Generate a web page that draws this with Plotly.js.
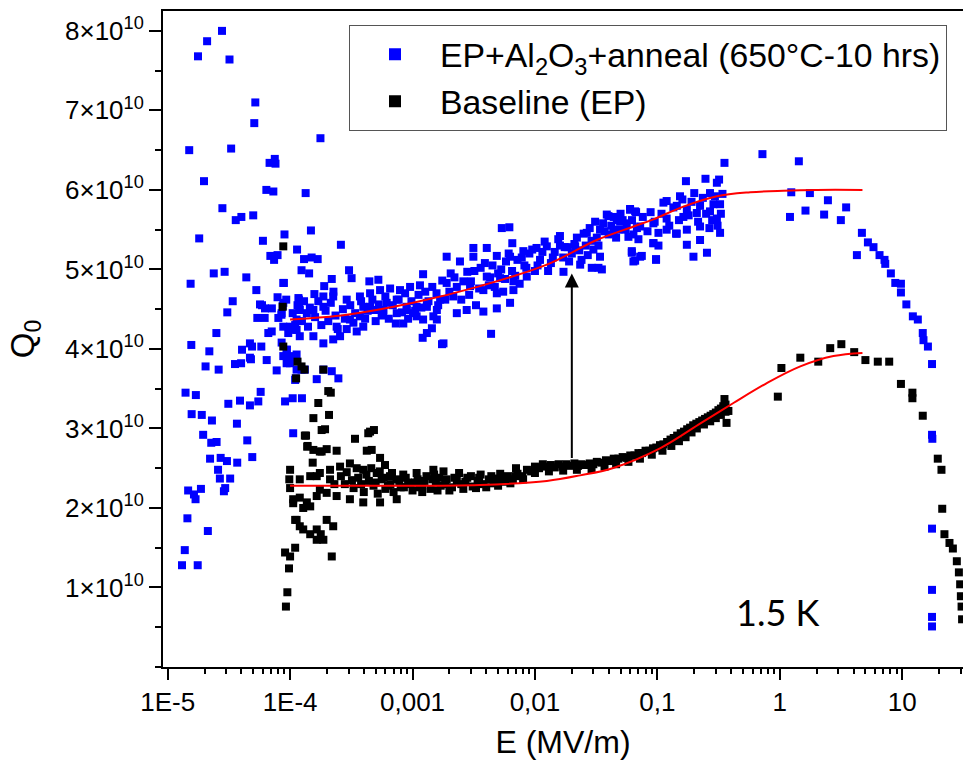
<!DOCTYPE html>
<html>
<head>
<meta charset="utf-8">
<script src="https://cdn.plot.ly/plotly-3.0.1.min.js"></script>
<style>html,body{margin:0;padding:0;background:#fff;}#chart{width:963px;height:768px;}</style>
</head>
<body>
<div id="chart"></div>
<script>
// ---- Data (E in MV/m, Q0) ----
const blueName = 'EP+Al<sub>2</sub>O<sub>3</sub>+anneal (650°C-10 hrs)';
const blackName = 'Baseline (EP)';

const blueE = [
2.78e-5,2.10e-5,1.77e-5,3.20e-5,5.20e-5,5.10e-5,1.50e-5,3.30e-5,1.77e-4,1.98e-5,
6.8e-5,7.5e-5,7.6e-5,6.4e-5,7.3e-5,1.34e-4,2.8e-5,3.6e-5,4.0e-5,5.0e-5,
1.81e-5,6.0e-5,9.0e-5,1.48e-4,6.9e-5,7.4e-5,7.9e-5,1.14e-4,1.30e-4,1.50e-4,
1.68e-4,2.38e-5,2.92e-5,4.39e-5,1.24e-4,1.43e-4,1.54e-5,8.9e-5,5.3e-5,7.9e-5,
9.3e-5,1.18e-4,1.58e-4,3.4e-5,5.9e-5,7.1e-5,8.7e-5,1.19e-4,3.07e-5,5.4e-5,
6.2e-5,8.5e-5,2.5e-5,1.56e-5,2.19e-5,2.04e-5,2.61e-5,3.55e-5,3.98e-5,4.79e-5,
4.05e-5,4.89e-5,5.82e-5,6.44e-5,7.77e-5,1.40e-5,1.70e-5,1.57e-5,1.90e-5,2.30e-5,
1.95e-5,2.27e-5,2.51e-5,3.13e-5,3.90e-5,4.70e-5,5.50e-5,5.75e-5,3.68e-5,4.47e-5,
2.22e-5,2.71e-5,3.05e-5,3.70e-5,4.91e-5,2.58e-5,2.67e-5,3.24e-5,2.88e-5,2.95e-5,
1.47e-5,1.64e-5,1.69e-5,1.87e-5,1.45e-5,2.13e-5,1.38e-5,1.31e-5,1.76e-5,9.1e-5,
1.05e-4,1.25e-4,1.06e-4,1.10e-4,1.24e-4,1.65e-4,1.87e-4,2.19e-4,2.48e-4,6.64e-5,
7.08e-5,4.70e-5,4.70e-5,5.68e-5,6.24e-5,8.53e-5,8.02e-5,8.8e-5,9.98e-5,1.13e-4,
9.66e-5,8.53e-5,9.37e-5,9.98e-5,1.13e-4,9.37e-5,1.13e-4,1.32e-4,1.11e-4,2.6e-4,
3.03e-4,3.18e-4,2.19e-4,1.90e-4,2.26e-4,4.44e-4,5.26e-4,1.22e-3,1.9e-3,2.44e-3,
3.14e-3,4.04e-3,3.14e-3,5.36e-3,6.18e-3,6.53e-3,4.88e-3,6.26e-3,8.04e-3,1.03e-2,
1.25e-2,1.60e-2,2.13e-2,2.65e-2,3.1e-2,3.98e-2,4.96e-2,5.98e-2,6.7e-2,3.4e-2,
4.38e-2,5.8e-2,7.0e-2,9.27e-2,1.02e-1,6.18e-2,7.23e-2,9.75e-2,6.37e-2,2.34e-2,
2.91e-2,3.3e-2,1.71e-2,8.57e-3,6.67e-3,5.19e-3,4.04e-3,6.67e-3,4.88e-3,3.79e-3,
2.95e-3,6.26e-3,4.88e-3,3.79e-3,2.77e-3,2.3e-3,4.38e-3,1.74e-3,1.21e-3,1.9e-3,
1.57e-3,1.31e-3,1.68e-3,2.15e-3,1.48e-3,1.22e-3,1.01e-3,8.95e-4,7.43e-4,6.15e-4,
5.43e-4,4.5e-4,3.72e-4,3.29e-4,2.9e-4,2.56e-4,2.25e-4,1.87e-4,1.55e-4,1.2e-4,
1.06e-4,9.4e-5,9.98e-5,8.8e-5,1.87e-4,2.25e-4,2.9e-4,3.72e-4,4.5e-4,5.43e-4,
6.56e-4,7.9e-4,9.55e-4,1.15e-3,3.96e-4,4.79e-4,5.77e-4,7.43e-4,8.97e-4,1.08e-3,
1.31e-3,1.58e-3,8.8e-5,8.8e-5,1.17e-4,1.2e-4,1.13e-4,1.37e-4,1.55e-4,1.87e-4,
2.4e-4,3.08e-4,3.96e-4,5.77e-4,8.41e-4,1.08e-3,1.44e-3,1.79e-3,1.31e-3,1.58e-3,
2.0e-3,2.2e-3,2.5e-3,2.8e-3,3.0e-3,3.3e-3,3.6e-3,4.2e-3,4.5e-3,5.0e-3,
5.5e-3,5.8e-3,6.5e-3,7.2e-3,7.5e-3,8.2e-3,9.0e-3,1.0e-2,1.1e-2,1.2e-2,
1.35e-2,1.45e-2,1.55e-2,1.7e-2,1.85e-2,2.0e-2,2.2e-2,2.4e-2,2.6e-2,2.8e-2,
3.0e-2,3.2e-2,3.6e-2,4.0e-2,4.4e-2,4.8e-2,5.2e-2,0.353,0.721,1.43,
0.171,0.247,0.306,0.319,0.200,0.269,0.153,0.112,0.119,0.144,
0.174,0.223,0.287,0.325,5.98e-2,6.58e-2,3.86e-2,4.66e-2,5.62e-2,7.23e-2,
9.27e-2,0.119,0.163,0.210,0.269,0.306,0.223,0.174,0.144,0.119,
6.37e-2,9.27e-2,0.102,0.142,0.174,0.223,0.266,0.325,6.18e-2,6.58e-2,
7.46e-2,9.75e-2,0.197,0.254,3.4e-2,3.52e-2,1.24,1.76,2.47,3.48,
1.21,1.62,2.30,3.15,4.68,4.26,5.24,5.82,6.52,7.16,
7.26,8.07,8.77,9.75,9.75,10.8,12.2,13.4,14.7,14.9,
16.2,17.5,17.5,17.6,17.5,17.5,17.5,17.5,
1.05e-4,1.1e-4,1.15e-4,1.25e-4,1.3e-4,1.4e-4,1.45e-4,1.6e-4,1.7e-4,1.8e-4,
1.95e-4,2.05e-4,2.15e-4,2.35e-4,2.45e-4,2.7e-4,2.8e-4,3.1e-4,3.4e-4,3.5e-4,
3.8e-4,4.1e-4,4.3e-4,4.7e-4,5.0e-4,5.3e-4,5.6e-4,6.0e-4,6.4e-4,6.9e-4,
7.3e-4,7.7e-4,8.2e-4,8.7e-4,9.2e-4,9.8e-4,1.05e-3,1.12e-3,1.18e-3,1.27e-3,
1.35e-3,1.45e-3,1.62e-3,1.75e-3,1.85e-3,2.05e-3,2.3e-3,2.6e-3,2.9e-3,3.2e-3,
3.5e-3,3.9e-3,4.3e-3,4.7e-3,5.3e-3,5.7e-3,6.1e-3,6.9e-3,7.8e-3,8.5e-3,
9.5e-3,1.05e-2,1.15e-2,1.28e-2,1.4e-2,1.6e-2,1.75e-2,1.9e-2,2.1e-2,2.3e-2,
2.5e-2,2.7e-2,2.9e-2,3.3e-2,3.7e-2,4.2e-2,4.6e-2,5.0e-2,5.5e-2,6.2e-2,
6.8e-2,7.6e-2,8.3e-2,8.8e-2,0.095,0.108,0.125,0.135,0.15,0.16,
0.18,0.19,0.215,0.235,0.25,0.28,0.295,0.31,0.33,0.34
];
const blueQ = [
8.00e10,7.87e10,7.68e10,7.64e10,7.10e10,6.84e10,6.50e10,6.52e10,6.65e10,6.11e10,
6.34e10,6.39e10,6.33e10,6.00e10,5.98e10,5.96e10,5.77e10,5.62e10,5.66e10,5.68e10,
5.39e10,5.36e10,5.44e10,5.49e10,5.17e10,5.12e10,5.18e10,5.25e10,5.13e10,5.15e10,
5.13e10,4.95e10,4.97e10,4.90e10,4.99e10,4.95e10,4.82e10,4.83e10,4.74e10,4.65e10,
4.62e10,4.62e10,4.69e10,4.60e10,4.55e10,4.51e10,4.54e10,4.51e10,4.46e10,4.39e10,
4.39e10,4.43e10,4.20e10,4.05e10,3.97e10,3.78e10,3.74e10,3.81e10,3.82e10,3.87e10,
3.99e10,4.03e10,4.03e10,3.86e10,3.73e10,3.45e10,3.42e10,3.18e10,3.17e10,3.10e10,
2.92e10,2.82e10,2.83e10,3.31e10,3.35e10,3.29e10,3.34e10,3.46e10,3.06e10,2.85e10,
2.62e10,2.63e10,2.59e10,2.57e10,2.64e10,2.48e10,2.37e10,2.37e10,2.21e10,2.25e10,
2.22e10,2.17e10,2.11e10,2.24e10,1.87e10,1.71e10,1.47e10,1.28e10,1.28e10,3.34e10,
3.38e10,3.38e10,2.94e10,3.61e10,3.74e10,3.62e10,3.74e10,3.72e10,3.63e10,4.20e10,
4.22e10,3.89e10,4.07e10,4.56e10,4.51e10,4.45e10,4.39e10,4.28e10,4.28e10,4.24e10,
4.20e10,4.08e10,3.99e10,3.91e10,3.93e10,3.82e10,3.74e10,3.74e10,3.63e10,5.31e10,
4.99e10,4.89e10,4.88e10,4.79e10,4.72e10,4.85e10,4.87e10,4.94e10,5.16e10,5.10e10,
5.27e10,5.27e10,5.16e10,5.52e10,5.53e10,5.33e10,5.17e10,5.16e10,5.23e10,5.27e10,
5.29e10,5.30e10,5.29e10,5.46e10,5.60e10,5.67e10,5.60e10,5.76e10,5.72e10,5.50e10,
5.46e10,5.41e10,5.38e10,5.33e10,5.46e10,5.23e10,5.16e10,5.12e10,5.10e10,5.06e10,
5.02e10,5.02e10,4.97e10,4.91e10,4.85e10,4.89e10,4.91e10,4.74e10,4.70e10,4.74e10,
4.79e10,4.58e10,4.51e10,4.47e10,4.49e10,4.45e10,4.19e10,4.06e10,4.14e10,4.83e10,
4.70e10,4.58e10,4.62e10,4.66e10,4.41e10,4.37e10,4.45e10,4.53e10,4.62e10,4.58e10,
4.49e10,4.53e10,4.41e10,4.33e10,4.25e10,4.16e10,4.12e10,4.07e10,4.16e10,4.16e10,
4.24e10,3.99e10,3.82e10,3.91e10,4.66e10,4.66e10,4.62e10,4.66e10,4.70e10,4.74e10,
4.76e10,4.74e10,4.78e10,4.80e10,4.53e10,4.49e10,4.49e10,4.45e10,4.49e10,4.53e10,
4.53e10,4.49e10,4.83e10,4.58e10,4.64e10,4.49e10,4.37e10,4.45e10,4.49e10,4.53e10,
4.28e10,4.37e10,4.28e10,4.45e10,4.32e10,4.41e10,4.26e10,4.07e10,4.20e10,4.37e10,
4.72e10,4.90e10,4.62e10,4.97e10,4.85e10,4.55e10,5.02e10,4.80e10,5.05e10,4.95e10,
4.72e10,5.10e10,4.98e10,5.12e10,4.82e10,5.05e10,5.20e10,4.98e10,5.12e10,5.35e10,
5.08e10,5.22e10,5.38e10,5.15e10,5.28e10,5.20e10,5.40e10,5.12e10,5.30e10,5.52e10,
5.25e10,5.40e10,5.58e10,5.44e10,5.66e10,5.50e10,5.62e10,6.34e10,6.45e10,6.36e10,
6.11e10,6.14e10,6.09e10,6.13e10,5.96e10,5.96e10,5.92e10,5.84e10,5.86e10,5.80e10,
5.75e10,5.80e10,5.82e10,5.82e10,5.75e10,5.73e10,5.69e10,5.62e10,5.58e10,5.54e10,
5.58e10,5.64e10,5.66e10,5.71e10,5.73e10,5.64e10,5.54e10,5.50e10,5.45e10,5.50e10,
5.44e10,5.33e10,5.30e10,5.45e10,5.31e10,5.37e10,5.52e10,5.46e10,5.21e10,5.11e10,
5.17e10,5.13e10,5.16e10,5.21e10,5.16e10,5.00e10,5.97e10,5.96e10,5.87e10,5.78e10,
5.66e10,5.74e10,5.69e10,5.62e10,5.46e10,5.18e10,5.34e10,5.28e10,5.18e10,5.12e10,
5.07e10,4.95e10,4.83e10,4.82e10,4.71e10,4.56e10,4.41e10,4.37e10,4.20e10,4.11e10,
4.03e10,3.81e10,2.92e10,2.87e10,1.74e10,0.97e10,0.63e10,0.51e10,
4.45e10,4.30e10,4.55e10,4.35e10,4.60e10,4.28e10,4.52e10,4.40e10,4.60e10,4.30e10,
4.48e10,4.35e10,4.58e10,4.42e10,4.25e10,4.50e10,4.38e10,4.55e10,4.45e10,4.22e10,
4.60e10,4.38e10,4.48e10,4.62e10,4.35e10,4.56e10,4.42e10,4.66e10,4.38e10,4.55e10,
4.32e10,4.62e10,4.46e10,4.70e10,4.38e10,4.60e10,4.48e10,4.68e10,4.52e10,4.72e10,
4.60e10,4.78e10,4.55e10,4.86e10,4.62e10,4.95e10,4.78e10,4.85e10,4.68e10,4.98e10,
4.76e10,5.08e10,4.90e10,4.78e10,5.00e10,4.88e10,5.20e10,4.92e10,5.15e10,5.02e10,
5.25e10,5.05e10,5.22e10,4.98e10,5.15e10,5.42e10,5.28e10,5.10e10,5.32e10,5.24e10,
5.45e10,5.18e10,5.36e10,5.30e10,5.48e10,5.55e10,5.40e10,5.70e10,5.50e10,5.62e10,
5.52e10,5.66e10,5.48e10,5.72e10,5.60e10,5.70e10,5.55e10,5.78e10,5.62e10,5.88e10,
5.68e10,5.85e10,5.60e10,5.90e10,5.70e10,5.62e10,5.92e10,5.55e10,5.70e10,5.95e10
];

const blackE = [
8.8e-5,8.7e-5,8.8e-5,1.15e-4,1.24e-4,1.12e-4,1.31e-4,1.87e-4,2.15e-4,1.7e-4,
2.08e-4,1.55e-4,1.81e-4,1.93e-4,2.05e-4,1.32e-4,1.35e-4,1.39e-4,1.55e-4,1.81e-4,
1.99e-4,2.4e-4,3.39e-4,4.35e-4,4.84e-4,4.23e-4,4.64e-4,5.43e-4,5.96e-4,4.5e-4,
1.0e-4,9.85e-5,1.2e-4,1.0e-4,1.06e-4,1.2e-4,1.28e-4,1.46e-4,1.1e-4,1.2e-4,
1.46e-4,1.65e-4,1.78e-4,9.1e-5,1.0e-4,1.1e-4,9.8e-5,9.5e-5,9.25e-5,1.38e-4,
1.53e-4,1.75e-4,1.65e-4,1.75e-4,2.12e-4,1.13e-4,1.28e-4,1.65e-4,1.87e-4,1.99e-4,
2.25e-4,2.19e-4,1.46e-4,1.75e-4,2.12e-4,2.56e-4,3.08e-4,3.96e-4,5.1e-4,6.55e-4,
8.4e-4,1.08e-3,1.48e-3,1.79e-3,1.06e-4,1.37e-4,1.65e-4,1.99e-4,2.4e-4,3.08e-4,
3.96e-4,5.43e-4,7.43e-4,2.8e-4,3.3e-4,3.6e-4,4.0e-4,4.4e-4,4.8e-4,5.2e-4,
5.6e-4,6.0e-4,6.6e-4,7.0e-4,7.8e-4,8.5e-4,9.2e-4,1.0e-3,1.1e-3,1.2e-3,
1.3e-3,1.4e-3,1.55e-3,1.7e-3,1.9e-3,2.1e-3,2.3e-3,2.5e-3,2.8e-3,3.1e-3,
3.4e-3,3.8e-3,4.2e-3,4.6e-3,5.0e-3,5.5e-3,6.0e-3,6.6e-3,7.2e-3,7.9e-3,
8.6e-3,9.3e-3,1.0e-2,1.08e-2,1.16e-2,1.25e-2,1.35e-2,1.45e-2,1.56e-2,1.68e-2,
1.8e-2,1.95e-2,2.1e-2,2.25e-2,2.4e-2,2.6e-2,2.8e-2,3.0e-2,3.2e-2,3.5e-2,
3.8e-2,4.1e-2,4.4e-2,4.8e-2,5.2e-2,5.6e-2,6.0e-2,6.5e-2,7.0e-2,7.5e-2,
8.0e-2,8.6e-2,9.2e-2,0.098,0.105,0.112,0.120,0.128,0.136,0.145,
0.155,0.165,0.175,0.185,0.196,0.208,0.220,0.232,0.245,0.258,
0.272,0.286,0.300,0.315,0.330,0.345,0.360,0.353,0.380,0.367,
1.0e-2,1.3e-2,1.7e-2,2.2e-2,2.9e-2,3.7e-2,4.6e-2,5.8e-2,7.2e-2,9.0e-2,
0.110,0.130,0.150,0.170,0.190,0.210,0.240,0.270,0.300,0.330,
0.360,1.2e-3,1.6e-3,2.0e-3,2.6e-3,3.3e-3,4.0e-3,5.0e-3,6.3e-3,8.0e-3,
1.5e-3,2.4e-3,3.6e-3,5.2e-3,7.0e-3,0.963,1.03,1.47,2.06,2.58,
3.18,4.05,5.0,6.31,7.82,9.75,12.1,12.1,14.7,19.5,
20.9,21.2,22.1,24.3,25.9,27.9,29.0,29.7,30.1,30.5,
30.8,
2.3e-4,2.6e-4,2.9e-4,3.2e-4,3.5e-4,3.8e-4,4.2e-4,4.6e-4,5.0e-4,5.4e-4,
5.8e-4,6.3e-4,6.8e-4,7.4e-4,8.0e-4,8.8e-4,9.6e-4,1.05e-3,1.15e-3,1.25e-3,
1.45e-3,1.65e-3,1.85e-3,2.2e-3,2.7e-3,3.0e-3,3.5e-3,4.4e-3,5.8e-3,6.9e-3
];
const blackQ = [
5.29e10,4.53e10,4.03e10,3.84e10,3.78e10,3.63e10,3.74e10,3.74e10,3.45e10,3.32e10,
3.17e10,3.13e10,2.98e10,2.99e10,3.47e10,2.91e10,2.91e10,2.78e10,2.73e10,2.71e10,
2.74e10,2.72e10,2.87e10,2.94e10,2.98e10,2.72e10,2.73e10,2.63e10,2.54e10,2.96e10,
2.48e10,2.36e10,2.36e10,2.25e10,2.06e10,2.13e10,2.00e10,2.02e10,1.85e10,1.77e10,
1.67e10,1.60e10,1.67e10,1.44e10,1.39e10,1.50e10,1.24e10,0.94e10,0.76e10,2.77e10,
2.57e10,2.71e10,2.40e10,2.23e10,2.36e10,1.85e10,1.73e10,1.73e10,1.60e10,1.85e10,
1.77e10,1.39e10,2.40e10,2.44e10,2.48e10,2.52e10,2.56e10,2.48e10,2.44e10,2.40e10,
2.42e10,2.44e10,2.48e10,2.46e10,2.11e10,2.07e10,2.15e10,2.19e10,2.15e10,2.11e10,
2.07e10,2.07e10,2.11e10,2.30e10,2.25e10,2.38e10,2.20e10,2.34e10,2.28e10,2.18e10,
2.36e10,2.24e10,2.30e10,2.20e10,2.34e10,2.26e10,2.32e10,2.22e10,2.36e10,2.28e10,
2.40e10,2.24e10,2.32e10,2.28e10,2.36e10,2.26e10,2.34e10,2.30e10,2.38e10,2.27e10,
2.34e10,2.30e10,2.36e10,2.31e10,2.37e10,2.33e10,2.40e10,2.36e10,2.43e10,2.40e10,
2.48e10,2.46e10,2.52e10,2.50e10,2.55e10,2.52e10,2.54e10,2.51e10,2.55e10,2.52e10,
2.55e10,2.53e10,2.56e10,2.53e10,2.55e10,2.54e10,2.56e10,2.55e10,2.58e10,2.57e10,
2.60e10,2.59e10,2.62e10,2.62e10,2.64e10,2.63e10,2.66e10,2.66e10,2.69e10,2.69e10,
2.72e10,2.72e10,2.75e10,2.76e10,2.79e10,2.80e10,2.83e10,2.86e10,2.88e10,2.91e10,
2.94e10,2.96e10,2.99e10,3.01e10,3.04e10,3.06e10,3.08e10,3.10e10,3.12e10,3.14e10,
3.16e10,3.18e10,3.20e10,3.23e10,3.25e10,3.28e10,3.30e10,3.37e10,3.22e10,3.07e10,
2.44e10,2.46e10,2.47e10,2.48e10,2.49e10,2.52e10,2.55e10,2.58e10,2.62e10,2.67e10,
2.72e10,2.78e10,2.84e10,2.89e10,2.95e10,3.00e10,3.05e10,3.09e10,3.13e10,3.17e10,
3.21e10,2.20e10,2.22e10,2.22e10,2.24e10,2.25e10,2.26e10,2.28e10,2.31e10,2.36e10,
2.42e10,2.44e10,2.42e10,2.43e10,2.50e10,3.40e10,3.76e10,3.89e10,3.84e10,4.01e10,
4.06e10,3.96e10,3.86e10,3.84e10,3.84e10,3.56e10,3.45e10,3.38e10,3.16e10,2.62e10,
2.48e10,1.99e10,1.67e10,1.56e10,1.49e10,1.33e10,1.19e10,1.04e10,0.89e10,0.76e10,
0.60e10,
2.30e10,2.40e10,2.45e10,2.35e10,2.50e10,2.30e10,2.42e10,2.50e10,2.32e10,2.46e10,
2.38e10,2.28e10,2.44e10,2.36e10,2.26e10,2.38e10,2.30e10,2.32e10,2.26e10,2.34e10,
2.36e10,2.38e10,2.30e10,2.38e10,2.33e10,2.40e10,2.38e10,2.40e10,2.35e10,2.40e10
];

// Fit curves (red)
const fitBlueE = [1.0e-4, 2.9e-4, 1.01e-3, 3.56e-3, 1.25e-2, 3.2e-2, 6.4e-2, 9.27e-2, 0.163, 0.306, 0.572, 1.07, 2.0, 4.73];
const fitBlueQ = [4.37e10, 4.43e10, 4.58e10, 4.79e10, 5.06e10, 5.37e10, 5.54e10, 5.63e10, 5.79e10, 5.92e10, 5.97e10, 5.99e10, 6.00e10, 6.00e10];
const fitBlackE = [1.0e-4, 5.43e-4, 3.56e-3, 1.25e-2, 2.34e-2, 4.3e-2, 0.105, 0.228, 0.418, 0.783, 1.47, 2.74, 4.73];
const fitBlackQ = [2.28e10, 2.28e10, 2.29e10, 2.34e10, 2.41e10, 2.50e10, 2.75e10, 3.07e10, 3.32e10, 3.57e10, 3.78e10, 3.91e10, 3.95e10];

// Arrow (improvement) and label
const arrowE = 0.02;
const arrowFromQ = 2.61e10;
const arrowToQ = 4.95e10;
const tempLabel = '1.5 K';

// Ticks
const xTickVals = [1e-5, 1e-4, 1e-3, 1e-2, 1e-1, 1, 10];
const xTickText = ['1E-5', '1E-4', '0,001', '0,01', '0,1', '1', '10'];
const yTickVals = [1e10, 2e10, 3e10, 4e10, 5e10, 6e10, 7e10, 8e10];
const yTickText = ['1×10<sup>10</sup>', '2×10<sup>10</sup>', '3×10<sup>10</sup>', '4×10<sup>10</sup>',
                   '5×10<sup>10</sup>', '6×10<sup>10</sup>', '7×10<sup>10</sup>', '8×10<sup>10</sup>'];

const FONT = 'Liberation Sans, Arial, Helvetica, sans-serif';

const traces = [
  {x: blueE, y: blueQ, type: 'scatter', mode: 'markers', name: blueName,
   marker: {symbol: 'square', size: 8, color: '#0000ff', line: {width: 0}}},
  {x: blackE, y: blackQ, type: 'scatter', mode: 'markers', name: blackName,
   marker: {symbol: 'square', size: 8, color: '#000000', line: {width: 0}}},
  {x: fitBlueE, y: fitBlueQ, type: 'scatter', mode: 'lines', showlegend: false, hoverinfo: 'skip',
   line: {color: '#ff0000', width: 2, shape: 'spline', smoothing: 1}},
  {x: fitBlackE, y: fitBlackQ, type: 'scatter', mode: 'lines', showlegend: false, hoverinfo: 'skip',
   line: {color: '#ff0000', width: 2, shape: 'spline', smoothing: 1}}
];

const layout = {
  width: 963, height: 768,
  margin: {l: 163, r: 0, t: 11, b: 101, pad: 0},
  paper_bgcolor: '#ffffff', plot_bgcolor: '#ffffff',
  font: {family: FONT, color: '#000000'},
  showlegend: true,
  legend: {
    x: 0.2325, y: 0.979, xanchor: 'left', yanchor: 'top',
    bgcolor: '#ffffff', bordercolor: '#555555', borderwidth: 1,
    font: {family: FONT, size: 33.8, color: '#000'},
    itemsizing: 'constant', itemwidth: 80, tracegroupgap: 0
  },
  xaxis: {
    type: 'log', range: [-5.038, 1.496], autorange: false,
    tickmode: 'array', tickvals: xTickVals, ticktext: xTickText,
    ticks: 'outside', ticklen: 11, tickwidth: 2, tickcolor: '#000',
    showline: true, linewidth: 2, linecolor: '#000', mirror: true,
    showgrid: false, zeroline: false,
    tickfont: {family: FONT, size: 26, color: '#000'},
    minor: {dtick: 'D1', ticks: 'outside', ticklen: 5, tickwidth: 2, tickcolor: '#000', showgrid: false},
    title: {text: 'E (MV/m)', font: {family: FONT, size: 32, color: '#000'}, standoff: 14},
    automargin: false
  },
  yaxis: {
    range: [0, 8.25e10], autorange: false,
    tickmode: 'array', tickvals: yTickVals, ticktext: yTickText,
    ticks: 'outside', ticklen: 12, tickwidth: 2, tickcolor: '#000',
    showline: true, linewidth: 2, linecolor: '#000', mirror: false,
    showgrid: false, zeroline: false,
    tickfont: {family: FONT, size: 26, color: '#000'},
    minor: {tick0: 0, dtick: 5e9, ticks: 'outside', ticklen: 6, tickwidth: 2, tickcolor: '#000', showgrid: false},
    title: {text: 'Q<sub>0</sub>', font: {family: FONT, size: 33, color: '#000'}, standoff: 20},
    automargin: false
  },
  annotations: [
    {x: Math.log10(arrowE), y: arrowToQ, ax: Math.log10(arrowE), ay: arrowFromQ,
     xref: 'x', yref: 'y', axref: 'x', ayref: 'y', text: '', showarrow: true,
     arrowhead: 2, arrowsize: 1.4, arrowwidth: 2, arrowcolor: '#000', standoff: 0, startstandoff: 0},
    {xref: 'paper', yref: 'paper', x: 0.7675, y: 0.0838, xanchor: 'center', yanchor: 'middle',
     text: tempLabel, showarrow: false, font: {family: 'Lato, Open Sans, sans-serif', size: 36, color: '#000'}}
  ]
};

Plotly.newPlot('chart', traces, layout, {staticPlot: true, displayModeBar: false});
</script>
</body>
</html>
